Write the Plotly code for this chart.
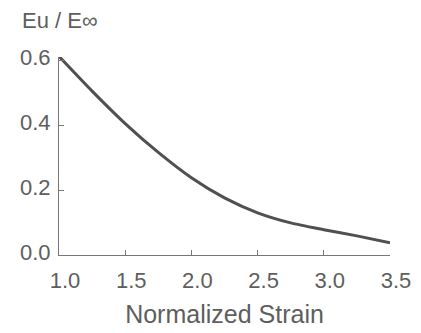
import plotly.graph_objects as go

strain = [1.0, 1.25, 1.5, 1.75, 2.0, 2.25, 2.5, 2.75, 3.0, 3.25, 3.5]
ratio = [0.612, 0.505, 0.405, 0.316, 0.238, 0.176, 0.13, 0.099, 0.078, 0.059, 0.038]
x_ticks = [1.0, 1.5, 2.0, 2.5, 3.0, 3.5]
x_labels = ["1.0", "1.5", "2.0", "2.5", "3.0", "3.5"]
y_ticks = [0.0, 0.2, 0.4, 0.6]
y_labels = ["0.0", "0.2", "0.4", "0.6"]

fig = go.Figure()
fig.add_trace(go.Scatter(x=strain, y=ratio, mode="lines",
                         line=dict(color="#505050", width=3, shape="spline", smoothing=0.7),
                         showlegend=False, hoverinfo="skip"))

font = dict(family="Liberation Sans, Arial, sans-serif", color="#5e5e5e")
fig.update_layout(
    width=421, height=333,
    margin=dict(l=49, r=39, t=49, b=86),
    paper_bgcolor="white", plot_bgcolor="white",
    font=dict(**font, size=18),
    xaxis=dict(range=[1.0, 3.5], tickvals=x_ticks, ticktext=x_labels,
               showgrid=False, zeroline=False, showline=True, linecolor="#777777",
               linewidth=1, ticks="inside", ticklen=5, tickcolor="#777777",
               ticklabelstandoff=6, ticklabelshift=6, tickfont=dict(size=22),
               title=dict(text="Normalized Strain", font=dict(size=25), standoff=13)),
    yaxis=dict(range=[0.0, 0.61], tickvals=y_ticks, ticktext=y_labels,
               showgrid=False, zeroline=False, showline=True, linecolor="#777777",
               linewidth=1, ticks="inside", ticklen=5, tickcolor="#777777",
               ticklabelstandoff=3, ticklabelshift=-3, tickfont=dict(size=22)),
    annotations=[dict(text="Eu / E\u221e", xref="paper", yref="paper",
                      x=-0.117, y=1.0, yshift=37, xanchor="left", yanchor="middle",
                      showarrow=False, font=dict(size=22, color="#5e5e5e"))],
)
fig.write_html("out.html")
